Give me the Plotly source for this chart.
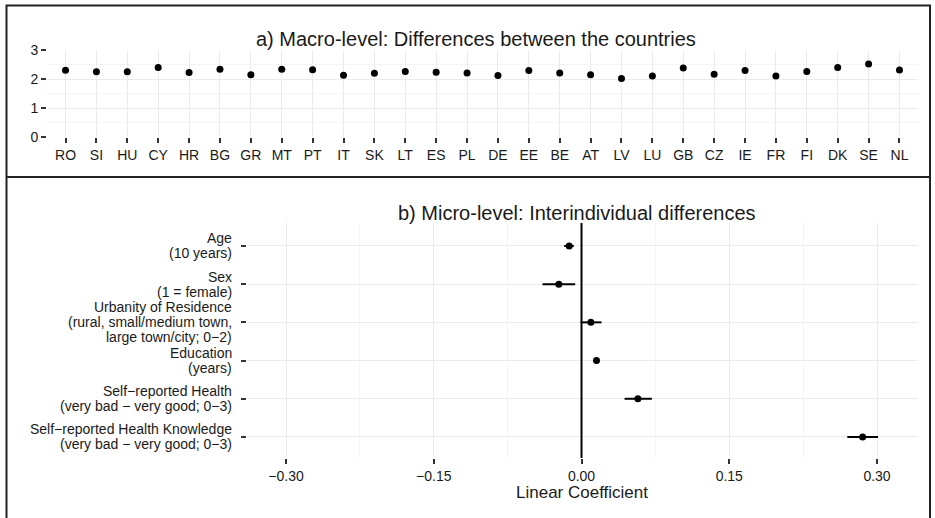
import plotly.graph_objects as go

W, H = 935, 518

# ---- Data: panel a (country means) ----
countries = ["RO", "SI", "HU", "CY", "HR", "BG", "GR", "MT", "PT", "IT", "SK", "LT", "ES", "PL",
             "DE", "EE", "BE", "AT", "LV", "LU", "GB", "CZ", "IE", "FR", "FI", "DK", "SE", "NL"]
country_means = [2.30, 2.25, 2.25, 2.40, 2.22, 2.34, 2.15, 2.34, 2.32, 2.13, 2.20, 2.26, 2.23, 2.21,
                 2.12, 2.29, 2.21, 2.15, 2.02, 2.10, 2.38, 2.16, 2.29, 2.10, 2.26, 2.40, 2.52, 2.31]
y_ticks_a = [0, 1, 2, 3]

# ---- Data: panel b (individual-level coefficients) ----
predictors = [
    "Age\n(10 years)",
    "Sex\n(1 = female)",
    "Urbanity of Residence\n(rural, small/medium town,\nlarge town/city; 0−2)",
    "Education\n(years)",
    "Self−reported Health\n(very bad − very good; 0−3)",
    "Self−reported Health Knowledge\n(very bad − very good; 0−3)",
]
coef = [-0.0125, -0.023, 0.0095, 0.0152, 0.0572, 0.2854]
ci_low = [-0.0176, -0.0396, -0.0010, 0.0132, 0.0437, 0.2698]
ci_high = [-0.0078, -0.0064, 0.0203, 0.0172, 0.0714, 0.3010]
x_ticks_b = [-0.30, -0.15, 0.00, 0.15, 0.30]
x_ticklabels_b = ["−0.30", "−0.15", "0.00", "0.15", "0.30"]

FONT = "Liberation Sans, Arial, Helvetica, sans-serif"
GRID = "#EBEBEB"
MINOR = "#F4F4F4"
TXT = "#1a1a1a"
LINE_H = 15  # px between lines of the multi-line predictor labels


def px_x(p):
    return p / W


def px_y(p):
    return 1 - p / H


fig = go.Figure()

fig.add_trace(go.Scatter(
    x=countries, y=country_means, mode="markers",
    marker=dict(color="black", size=7),
    xaxis="x", yaxis="y", showlegend=False,
))

err_plus = [h - c for h, c in zip(ci_high, coef)]
err_minus = [c - l for c, l in zip(coef, ci_low)]
fig.add_trace(go.Scatter(
    x=coef, y=predictors, mode="markers",
    marker=dict(color="black", size=7),
    error_x=dict(type="data", symmetric=False, array=err_plus, arrayminus=err_minus,
                 width=0, thickness=2, color="black"),
    xaxis="x2", yaxis="y2", showlegend=False,
))

tick_common = dict(ticks="outside", ticklen=5, tickwidth=1.5, tickcolor="#333333",
                   tickfont=dict(family=FONT, size=14, color=TXT), showline=False,
                   zeroline=False, automargin=False)

fig.update_layout(
    width=W, height=H,
    margin=dict(l=0, r=0, t=0, b=0),
    paper_bgcolor="white", plot_bgcolor="white",
    font=dict(family=FONT, color=TXT),
    xaxis=dict(domain=[px_x(47), px_x(918)], anchor="y",
               type="category", categoryorder="array", categoryarray=countries,
               range=[-0.6, len(countries) - 0.4],
               showgrid=True, gridcolor=GRID, gridwidth=1, **tick_common),
    yaxis=dict(domain=[px_y(137), px_y(50)], anchor="x",
               range=[0, 3], tickvals=y_ticks_a,
               showgrid=True, gridcolor=GRID, gridwidth=1,
               minor=dict(dtick=0.5, showgrid=True, gridcolor=MINOR, gridwidth=1, ticks=""),
               **tick_common),
    xaxis2=dict(domain=[px_x(247), px_x(918)], anchor="y2",
                range=[-0.3396, 0.3416], tickvals=x_ticks_b, ticktext=x_ticklabels_b,
                showgrid=True, gridcolor=GRID, gridwidth=1,
                minor=dict(tickvals=[-0.225, -0.075, 0.075, 0.225], showgrid=True,
                           gridcolor=MINOR, gridwidth=1, ticks=""),
                **tick_common),
    yaxis2=dict(domain=[px_y(458), px_y(223)], anchor="x2",
                type="category", categoryorder="array", categoryarray=predictors,
                range=[len(predictors) - 0.45, -0.6], showticklabels=False,
                showgrid=True, gridcolor=GRID, gridwidth=1, **tick_common),
)

# predictor labels: tight line spacing, right-aligned, centred on each category tick
for p in predictors:
    lines = p.split("\n")
    n = len(lines)
    for i, ln in enumerate(lines):
        fig.add_annotation(text=ln, xref="x2 domain", yref="y2", x=0, y=p,
                           xanchor="right", yanchor="middle", xshift=-13,
                           yshift=((n - 1) / 2 - i) * LINE_H, showarrow=False,
                           font=dict(family=FONT, size=14, color=TXT))

# zero reference line in panel b
fig.add_shape(type="line", xref="x2", yref="y2 domain", x0=0, x1=0, y0=0, y1=1,
              line=dict(color="black", width=2))

# outer frame and panel separator
fig.add_shape(type="rect", xref="paper", yref="paper",
              x0=px_x(6.5), x1=px_x(930), y0=px_y(530), y1=px_y(5.5),
              line=dict(color="#222222", width=2), layer="above")
fig.add_shape(type="line", xref="paper", yref="paper",
              x0=px_x(6.5), x1=px_x(930), y0=px_y(177), y1=px_y(177),
              line=dict(color="#222222", width=2), layer="above")

# titles
fig.add_annotation(text="a) Macro-level: Differences between the countries",
                   xref="paper", yref="paper", x=px_x(476), y=px_y(39),
                   xanchor="center", yanchor="middle", showarrow=False,
                   font=dict(family=FONT, size=20, color=TXT))
fig.add_annotation(text="b) Micro-level: Interindividual differences",
                   xref="paper", yref="paper", x=px_x(577), y=px_y(213),
                   xanchor="center", yanchor="middle", showarrow=False,
                   font=dict(family=FONT, size=20, color=TXT))
fig.add_annotation(text="Linear Coefficient",
                   xref="paper", yref="paper", x=px_x(582), y=px_y(492),
                   xanchor="center", yanchor="middle", showarrow=False,
                   font=dict(family=FONT, size=17, color=TXT))

fig.write_html("out.html", config={"displayModeBar": False},
               post_script="document.body.style.margin='0';")
